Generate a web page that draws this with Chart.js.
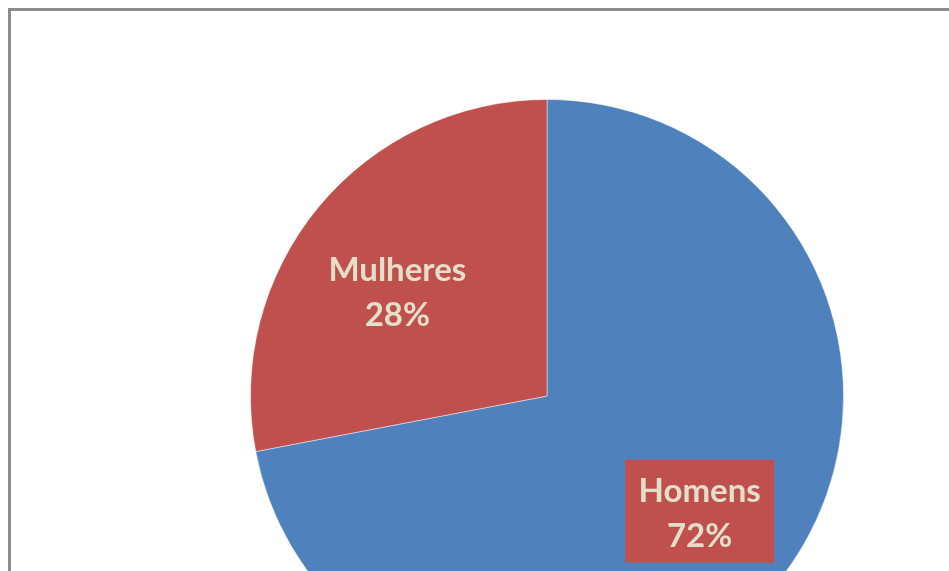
<!DOCTYPE html>
<html>
<head>
<meta charset="utf-8">
<script src="https://cdn.jsdelivr.net/npm/chart.js@4/dist/chart.umd.min.js"></script>
<style>
html,body{margin:0;padding:0;overflow:hidden;background:#fff;width:949px;height:571px;}
#wrap{position:absolute;left:0;top:0;width:949px;height:800px;}
</style>
</head>
<body>
<div id="wrap"><canvas id="c" width="949" height="800"></canvas></div>
<script>
const categories = ["Homens", "Mulheres"];
const values = [72, 28];
const percentLabels = ["72%", "28%"];
const colors = ["#4f81bd", "#c0504d"];

const framePlugin = {
  id: 'frame',
  beforeDraw(chart) {
    const ctx = chart.ctx;
    ctx.save();
    ctx.strokeStyle = '#8c8c8c';
    ctx.lineWidth = 3;
    ctx.strokeRect(9.5, 9.5, 1200, 1000);
    ctx.restore();
  }
};

// small per-slice nudges to mimic the spreadsheet's label placement
const nudges = [[11, -2], [-8, 12]];

const labelPlugin = {
  id: 'sliceLabels',
  afterDatasetsDraw(chart) {
    const ctx = chart.ctx;
    const meta = chart.getDatasetMeta(0);
    ctx.save();
    ctx.font = 'bold 33px Lato, "Open Sans", sans-serif';
    ctx.textAlign = 'center';
    ctx.textBaseline = 'middle';
    meta.data.forEach((arc, i) => {
      const p = arc.getProps(['x','y','startAngle','endAngle','outerRadius']);
      const mid = (p.startAngle + p.endAngle) / 2;
      const r = p.outerRadius * 0.62;
      const cx = p.x + Math.cos(mid) * r + nudges[i][0];
      const cy = p.y + Math.sin(mid) * r + nudges[i][1];
      const l1 = categories[i], l2 = percentLabels[i];
      const w = 149;
      const h = 103;
      ctx.fillStyle = '#c0504d';
      ctx.fillRect(cx - w/2, cy - h/2, w, h);
      ctx.fillStyle = '#e4dfc9';
      ctx.fillText(l1, cx, cy - 20);
      ctx.fillText(l2, cx, cy + 25);
    });
    ctx.restore();
  }
};

new Chart(document.getElementById('c'), {
  type: 'pie',
  data: {
    labels: categories,
    datasets: [{
      data: values,
      backgroundColor: colors,
      borderColor: 'rgba(255,255,255,0.45)',
      borderWidth: 1
    }]
  },
  options: {
    responsive: false,
    animation: false,
    layout: { padding: { left: 250, right: 105, top: 99, bottom: 107 } },
    plugins: { legend: { display: false }, tooltip: { enabled: false } }
  },
  plugins: [framePlugin, labelPlugin]
});
</script>
</body>
</html>
